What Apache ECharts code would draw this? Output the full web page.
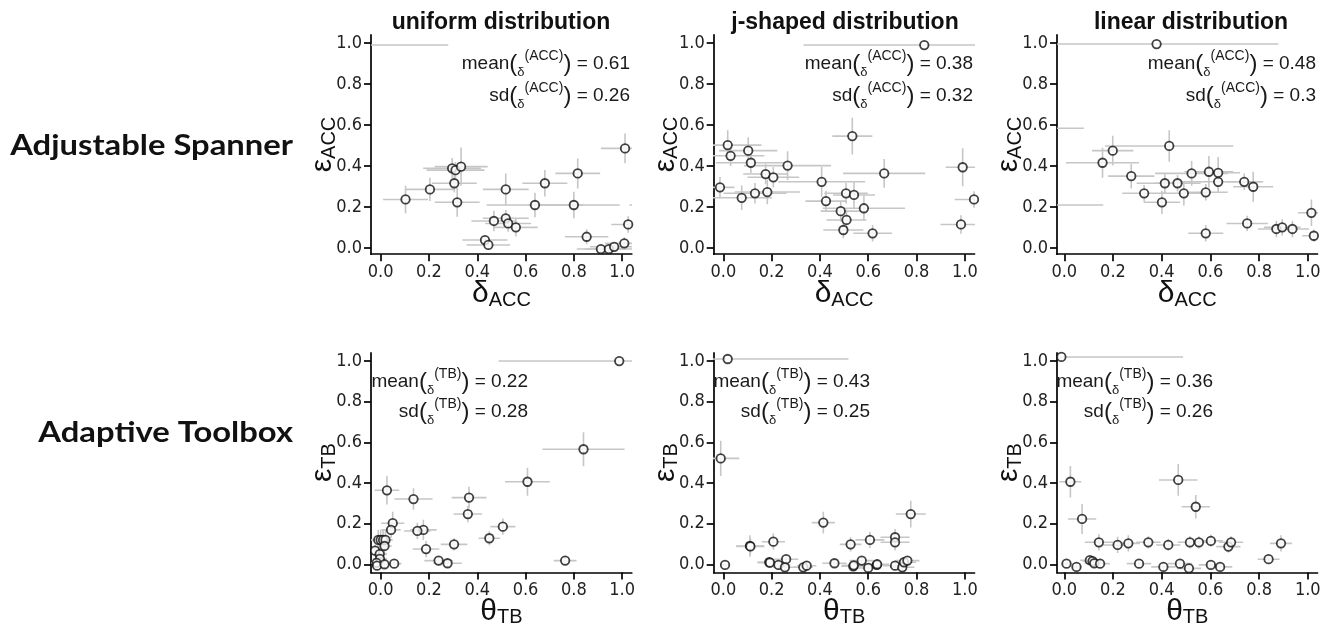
<!DOCTYPE html>
<html><head><meta charset="utf-8">
<script src="https://cdn.jsdelivr.net/npm/echarts@6/dist/echarts.min.js"></script>
<style>html,body{margin:0;padding:0;background:#fff}#c{width:1327px;height:627px}</style>
</head><body><div id="c"></div>
<script>
// ---------- data ----------
const colTitles = ['uniform distribution', 'j-shaped distribution', 'linear distribution'];
const rowTitles = ['Adjustable Spanner', 'Adaptive Toolbox'];
const tickValues = [0, 0.2, 0.4, 0.6, 0.8, 1.0];
const tickLabels = ['0.0', '0.2', '0.4', '0.6', '0.8', '1.0'];
const rowSymbols = [['δ', 'ACC', 'ε', 'ACC'], ['θ', 'TB', 'ε', 'TB']];
const annSup = ['ACC', 'TB'];
const annMeans = ['0.61', '0.38', '0.48', '0.22', '0.43', '0.36'];
const annSds = ['0.26', '0.32', '0.3', '0.28', '0.25', '0.26'];

// each point: [x, y, xHalfError, yHalfError]
const spannerUniform = [
  [-0.12, 0.99, 0.40, 0], [0.103, 0.237, 0.093, 0.067], [0.204, 0.286, 0.10, 0.057],
  [0.305, 0.316, 0.093, 0.045], [0.296, 0.389, 0.12, 0.05], [0.31, 0.38, 0.12, 0.04],
  [0.333, 0.397, 0.11, 0.093], [0.317, 0.223, 0.093, 0.07], [0.432, 0.039, 0.093, 0.02],
  [0.446, 0.015, 0.09, 0.02], [0.469, 0.132, 0.093, 0.05], [0.518, 0.286, 0.095, 0.078],
  [0.518, 0.145, 0.095, 0.04], [0.528, 0.12, 0.095, 0.04], [0.56, 0.101, 0.09, 0.045],
  [0.639, 0.21, 0.2, 0.06], [0.68, 0.316, 0.093, 0.065], [0.816, 0.364, 0.093, 0.073],
  [0.80, 0.21, 0.19, 0.065], [0.853, 0.055, 0.09, 0.037], [0.912, -0.005, 0.1, 0.02],
  [0.945, -0.005, 0.1, 0.02], [0.967, 0.006, 0.1, 0.02], [1.009, 0.023, 0.08, 0.03],
  [1.025, 0.115, 0.07, 0.04], [1.012, 0.486, 0.1, 0.073], [1.07, 0.21, 0.04, 0]
];
const spannerJshaped = [
  [0.832, 0.99, 0.5, 0], [0.018, 0.502, 0.14, 0.073], [0.03, 0.45, 0.14, 0.05],
  [0.103, 0.475, 0.12, 0.065], [0.114, 0.416, 0.145, 0.05], [0.175, 0.361, 0.093, 0.05],
  [0.207, 0.345, 0.107, 0.05], [0.266, 0.402, 0.18, 0.07], [-0.014, 0.296, 0.06, 0.05],
  [0.076, 0.245, 0.125, 0.06], [0.131, 0.267, 0.13, 0.05], [0.182, 0.273, 0.135, 0.06],
  [0.407, 0.323, 0.18, 0.073], [0.425, 0.229, 0.085, 0.05], [0.534, 0.546, 0.083, 0.09],
  [0.508, 0.267, 0.09, 0.05], [0.541, 0.259, 0.087, 0.065], [0.486, 0.18, 0.083, 0.05],
  [0.51, 0.137, 0.083, 0.05], [0.497, 0.088, 0.083, 0.04], [0.582, 0.194, 0.17, 0.06],
  [0.618, 0.072, 0.08, 0.04], [0.666, 0.364, 0.17, 0.07], [0.991, 0.394, 0.07, 0.093],
  [0.984, 0.115, 0.085, 0.045], [1.038, 0.237, 0.08, 0.04]
];
const spannerLinear = [
  [0.379, 0.995, 0.5, 0], [-0.1, 0.584, 0.18, 0], [-0.05, 0.21, 0.21, 0],
  [0.157, 0.416, 0.15, 0.073], [0.199, 0.475, 0.085, 0.073], [0.275, 0.351, 0.095, 0.06],
  [0.328, 0.267, 0.09, 0.04], [0.401, 0.223, 0.075, 0.057], [0.413, 0.316, 0.116, 0.05],
  [0.431, 0.498, 0.263, 0.077], [0.465, 0.316, 0.095, 0.04], [0.491, 0.267, 0.092, 0.06],
  [0.523, 0.364, 0.15, 0.06], [0.581, 0.272, 0.09, 0.04], [0.594, 0.372, 0.1, 0.077],
  [0.632, 0.367, 0.09, 0.077], [0.632, 0.323, 0.177, 0.05], [0.739, 0.323, 0.078, 0.04],
  [0.776, 0.299, 0.082, 0.073], [0.581, 0.072, 0.072, 0.04], [0.751, 0.12, 0.085, 0.037],
  [0.871, 0.093, 0.075, 0.04], [0.895, 0.101, 0.075, 0.04], [0.937, 0.093, 0.068, 0.04],
  [1.015, 0.172, 0.055, 0.065], [1.025, 0.06, 0.048, 0.03]
];
const toolboxUniform = [
  [0.988, 1.0, 0.5, 0], [0.84, 0.566, 0.17, 0.084], [0.608, 0.406, 0.093, 0.069],
  [0.026, 0.364, 0.051, 0.07], [0.136, 0.321, 0.079, 0.053], [0.366, 0.328, 0.072, 0.053],
  [0.361, 0.247, 0.059, 0.04], [0.506, 0.185, 0.052, 0.04], [0.45, 0.128, 0.045, 0.035],
  [0.304, 0.098, 0.055, 0.03], [0.188, 0.075, 0.055, 0.04], [0.177, 0.169, 0.055, 0.05],
  [0.152, 0.164, 0.055, 0.04], [0.05, 0.202, 0.048, 0.057], [0.043, 0.169, 0.04, 0.04],
  [-0.01, 0.12, 0.03, 0.05], [0.0, 0.12, 0.03, 0.05], [0.01, 0.12, 0.03, 0.05],
  [0.02, 0.12, 0.03, 0.05], [0.016, 0.09, 0.03, 0.04], [-0.023, 0.067, 0.03, 0.03],
  [-0.004, 0.05, 0.03, 0.03], [-0.003, 0.027, 0.03, 0.02], [-0.017, 0.007, 0.03, 0.02],
  [-0.015, -0.007, 0.02, 0.02], [0.016, 0.0, 0.02, 0.02], [0.056, 0.003, 0.03, 0.02],
  [0.24, 0.018, 0.059, 0.02], [0.277, 0.005, 0.059, 0.02], [0.764, 0.018, 0.047, 0.02]
];
const toolboxJshaped = [
  [0.018, 1.01, 0.5, 0], [-0.011, 0.521, 0.077, 0.087], [0.414, 0.205, 0.048, 0.054],
  [0.776, 0.247, 0.062, 0.066], [0.11, 0.09, 0.058, 0.053], [0.112, 0.088, 0.058, 0.04],
  [0.207, 0.111, 0.048, 0.04], [0.527, 0.098, 0.045, 0.035], [0.607, 0.12, 0.06, 0.04],
  [0.711, 0.133, 0.06, 0.04], [0.711, 0.108, 0.06, 0.04], [0.007, -0.003, 0.02, 0.01],
  [0.19, 0.01, 0.05, 0.02], [0.193, 0.008, 0.05, 0.02], [0.228, -0.003, 0.05, 0.02],
  [0.26, 0.025, 0.05, 0.02], [0.255, -0.015, 0.05, 0.02], [0.331, -0.015, 0.04, 0.02],
  [0.345, -0.007, 0.04, 0.02], [0.46, 0.005, 0.05, 0.02], [0.538, -0.01, 0.05, 0.02],
  [0.54, -0.005, 0.05, 0.02], [0.573, 0.018, 0.05, 0.02], [0.6, -0.018, 0.05, 0.02],
  [0.635, -0.003, 0.05, 0.02], [0.637, 0.0, 0.05, 0.02], [0.711, -0.007, 0.05, 0.02],
  [0.741, -0.015, 0.05, 0.02], [0.748, 0.01, 0.05, 0.02], [0.762, 0.018, 0.05, 0.02]
];
const toolboxLinear = [
  [-0.012, 1.02, 0.5, 0], [0.025, 0.406, 0.045, 0.078], [0.073, 0.223, 0.058, 0.074],
  [0.468, 0.415, 0.079, 0.078], [0.54, 0.283, 0.058, 0.058], [0.142, 0.108, 0.058, 0.04],
  [0.219, 0.095, 0.062, 0.04], [0.263, 0.103, 0.048, 0.04], [0.345, 0.108, 0.05, 0.03],
  [0.427, 0.095, 0.05, 0.03], [0.516, 0.108, 0.05, 0.03], [0.553, 0.108, 0.05, 0.03],
  [0.602, 0.115, 0.05, 0.03], [0.674, 0.087, 0.05, 0.03], [0.685, 0.108, 0.05, 0.03],
  [0.89, 0.103, 0.045, 0.04], [0.839, 0.025, 0.045, 0.02], [0.009, 0.003, 0.02, 0.01],
  [0.05, -0.013, 0.02, 0.01], [0.105, 0.02, 0.04, 0.02], [0.116, 0.015, 0.04, 0.02],
  [0.123, 0.005, 0.04, 0.02], [0.147, 0.003, 0.04, 0.02], [0.307, 0.003, 0.05, 0.02],
  [0.407, -0.013, 0.05, 0.02], [0.475, 0.003, 0.05, 0.02], [0.512, -0.02, 0.05, 0.02],
  [0.602, -0.003, 0.05, 0.02], [0.64, -0.013, 0.05, 0.02]
];
const panelData = [spannerUniform, spannerJshaped, spannerLinear, toolboxUniform, toolboxJshaped, toolboxLinear];

// ---------- layout ----------
const FONT = '"Liberation Sans", Arial, sans-serif';
const NARROW = '"Liberation Sans Narrow", "DejaVu Sans Condensed", "Liberation Sans", sans-serif';
const cols = [
  {left: 371, width: 260.8, xmin: -0.04, titleX: 501, annTopRight: 630, annBotRight: 528},
  {left: 713.7, width: 260.8, xmin: -0.04, titleX: 845, annTopRight: 973, annBotRight: 870},
  {left: 1057, width: 260.5, xmin: -0.03, titleX: 1191, annTopRight: 1316, annBotRight: 1213}
];
const rows = [
  {top: 34.8, height: 219.4, ymin: -0.03, labelY: 146, ann1: 64, ann2: 96, xGap: 24},
  {top: 352.9, height: 219.5, ymin: -0.04, labelY: 433, ann1: 382, ann2: 412, xGap: 23}
];

const grids = [], xAxes = [], yAxes = [], series = [], graphics = [];
function tickFmt(v) { return tickLabels[Math.round(v * 5)]; }
const axisRich = {
  g: {fontSize: 30, fontFamily: FONT, color: '#111', lineHeight: 32},
  sub: {fontSize: 20, fontFamily: FONT, color: '#111', verticalAlign: 'bottom', lineHeight: 22}
};
const annRich = {
  n: {fontSize: 19, fontFamily: FONT, fill: '#1a1a1a', lineHeight: 30},
  p: {fontSize: 24, fontFamily: FONT, fill: '#1a1a1a', lineHeight: 30},
  d: {fontSize: 13, fontFamily: FONT, fill: '#1a1a1a', verticalAlign: 'bottom', lineHeight: 27},
  s: {fontSize: 14, fontFamily: FONT, fill: '#1a1a1a', verticalAlign: 'top', lineHeight: 15}
};

for (let r = 0; r < 2; r++) {
  for (let c = 0; c < 3; c++) {
    const i = r * 3 + c;
    const col = cols[c], row = rows[r];
    grids.push({left: col.left, top: row.top, width: col.width, height: row.height, containLabel: false, outerBoundsMode: 'none'});
    const axisCommon = {
      type: 'value', gridIndex: i, max: 1.04, splitLine: {show: false},
      axisLine: {show: true, onZero: false, lineStyle: {color: '#000', width: 1.7}},
      axisTick: {show: true, length: 7, inside: false, customValues: tickValues, lineStyle: {color: '#000', width: 1.7}},
      axisLabel: {customValues: tickValues, formatter: tickFmt, fontSize: 18, fontFamily: NARROW, color: '#222', margin: 9},
      nameLocation: 'middle', nameMoveOverlap: false, nameTextStyle: {rich: axisRich}
    };
    xAxes.push(Object.assign({}, axisCommon, {
      min: col.xmin, name: '{g|' + rowSymbols[r][0] + '}{sub|' + rowSymbols[r][1] + '}', nameGap: row.xGap
    }));
    yAxes.push(Object.assign({}, axisCommon, {
      min: row.ymin, name: '{g|' + rowSymbols[r][2] + '}{sub|' + rowSymbols[r][3] + '}', nameGap: 32, nameRotate: 90
    }));
    series.push({
      type: 'custom', xAxisIndex: i, yAxisIndex: i, clip: true, silent: true,
      data: panelData[i], encode: {x: 0, y: 1},
      renderItem: function (params, api) {
        const x = api.value(0), y = api.value(1), xe = api.value(2), ye = api.value(3);
        const a = api.coord([x - xe, y]), b = api.coord([x + xe, y]);
        const cc = api.coord([x, y - ye]), d = api.coord([x, y + ye]);
        const st = {stroke: '#c6c6c6', lineWidth: 1.6};
        const ch = [{type: 'line', shape: {x1: a[0], y1: a[1], x2: b[0], y2: b[1]}, style: st}];
        if (ye > 0) ch.push({type: 'line', shape: {x1: cc[0], y1: cc[1], x2: d[0], y2: d[1]}, style: st});
        return {type: 'group', children: ch};
      },
      z: 1
    });
    series.push({
      type: 'scatter', xAxisIndex: i, yAxisIndex: i, clip: true, silent: true,
      data: panelData[i].map(p => [p[0], p[1]]),
      symbol: 'circle', symbolSize: 8.5,
      itemStyle: {color: '#fff', borderColor: '#111', borderWidth: 1.8},
      z: 2
    });
    // annotation
    const sup = annSup[r];
    const l1 = '{n|mean}{p|(}{d|δ}{s|(' + sup + ')}{p|)}{n| = ' + annMeans[i] + '}';
    const l2 = '{n|sd}{p|(}{d|δ}{s|(' + sup + ')}{p|)}{n| = ' + annSds[i] + '}';
    const rx = r === 0 ? col.annTopRight : col.annBotRight;
    graphics.push({type: 'text', x: rx, y: row.ann1, style: {text: l1, rich: annRich, align: 'right', verticalAlign: 'middle', textAlign: 'right', textVerticalAlign: 'middle'}, z: 10});
    graphics.push({type: 'text', x: rx, y: row.ann2, style: {text: l2, rich: annRich, align: 'right', verticalAlign: 'middle', textAlign: 'right', textVerticalAlign: 'middle'}, z: 10});
  }
}
// column titles
for (let c = 0; c < 3; c++) {
  graphics.push({type: 'text', x: cols[c].titleX, y: 23, style: {text: colTitles[c], font: 'bold 23px ' + FONT, fill: '#111', align: 'center', verticalAlign: 'middle', textAlign: 'center', textVerticalAlign: 'middle'}});
}
// row titles
for (let r = 0; r < 2; r++) {
  graphics.push({type: 'text', x: 293, y: rows[r].labelY, scaleX: 1.13, style: {text: rowTitles[r], font: 'bold 29px Lato, "Open Sans", sans-serif', fill: '#111', align: 'right', verticalAlign: 'middle', textAlign: 'right', textVerticalAlign: 'middle'}});
}

const chart = echarts.init(document.getElementById('c'), null, {renderer: 'canvas'});
chart.setOption({
  animation: false, backgroundColor: '#fff',
  grid: grids, xAxis: xAxes, yAxis: yAxes, series: series, graphic: graphics
});
</script></body></html>
